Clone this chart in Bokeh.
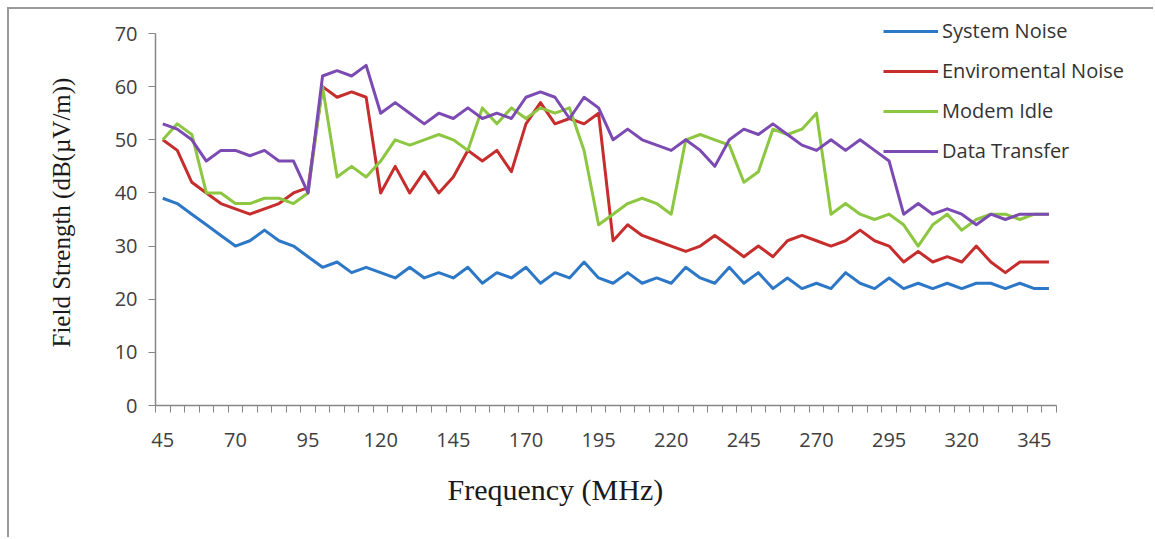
from bokeh.plotting import figure
from bokeh.models import FixedTicker, Range1d, Legend, LegendItem, Title
from bokeh.embed import file_html
from bokeh.resources import INLINE

# ---- data ----
freq = [45, 50, 55, 60, 65, 70, 75, 80, 85, 90, 95, 100, 105, 110, 115, 120,
        125, 130, 135, 140, 145, 150, 155, 160, 165, 170, 175, 180, 185, 190, 195,
        200, 205, 210, 215, 220, 225, 230, 235, 240, 245, 250, 255, 260, 265, 270,
        275, 280, 285, 290, 295, 300, 305, 310, 315, 320, 325, 330, 335, 340, 345, 350]

system_noise = [39, 38, 36, 34, 32, 30, 31, 33, 31, 30, 28, 26, 27, 25, 26, 25,
                24, 26, 24, 25, 24, 26, 23, 25, 24, 26, 23, 25, 24, 27, 24,
                23, 25, 23, 24, 23, 26, 24, 23, 26, 23, 25, 22, 24, 22, 23,
                22, 25, 23, 22, 24, 22, 23, 22, 23, 22, 23, 23, 22, 23, 22, 22]

env_noise = [50, 48, 42, 40, 38, 37, 36, 37, 38, 40, 41, 60, 58, 59, 58, 40,
             45, 40, 44, 40, 43, 48, 46, 48, 44, 53, 57, 53, 54, 53, 55,
             31, 34, 32, 31, 30, 29, 30, 32, 30, 28, 30, 28, 31, 32, 31,
             30, 31, 33, 31, 30, 27, 29, 27, 28, 27, 30, 27, 25, 27, 27, 27]

modem_idle = [50, 53, 51, 40, 40, 38, 38, 39, 39, 38, 40, 60, 43, 45, 43, 46,
              50, 49, 50, 51, 50, 48, 56, 53, 56, 54, 56, 55, 56, 48, 34,
              36, 38, 39, 38, 36, 50, 51, 50, 49, 42, 44, 52, 51, 52, 55,
              36, 38, 36, 35, 36, 34, 30, 34, 36, 33, 35, 36, 36, 35, 36, 36]

data_transfer = [53, 52, 50, 46, 48, 48, 47, 48, 46, 46, 40, 62, 63, 62, 64, 55,
                 57, 55, 53, 55, 54, 56, 54, 55, 54, 58, 59, 58, 54, 58, 56,
                 50, 52, 50, 49, 48, 50, 48, 45, 50, 52, 51, 53, 51, 49, 48,
                 50, 48, 50, 48, 46, 36, 38, 36, 37, 36, 34, 36, 35, 36, 36, 36]

x_tick_labels = [45, 70, 95, 120, 145, 170, 195, 220, 245, 270, 295, 320, 345]
y_ticks = [0, 10, 20, 30, 40, 50, 60, 70]

x_title = "Frequency (MHz)"
y_title = "Field Strength (dB(\u00b5V/m))"
series_names = ["System Noise", "Enviromental Noise", "Modem Idle", "Data Transfer"]
series_colors = ["#2D77C7", "#C62D2D", "#8DC641", "#7B4AB3"]

# ---- layout constants (pixels) ----
W, H = 1153, 537
ML, MR, MT, MB = 155, 3, 9, 132
AXIS_W_PX = 900.7     # width of the category axis
AXIS_H_PX = 372.0     # height of the 0..70 value axis

half = (freq[1] - freq[0]) / 2
x0, x1 = freq[0] - half, freq[-1] + half
frame_w = W - ML - MR
frame_h = H - MT - MB
x_end = x0 + frame_w * (x1 - x0) / AXIS_W_PX
y_end = frame_h * (y_ticks[-1] - y_ticks[0]) / AXIS_H_PX

p = figure(width=W, height=H, output_backend="svg", toolbar_location=None,
           x_range=Range1d(x0, x_end), y_range=Range1d(y_ticks[0], y_end),
           min_border_left=ML, min_border_right=MR,
           min_border_top=MT, min_border_bottom=MB)
# chart-area border (top and left edges) drawn as the element background
frame_css = "linear-gradient(#9a9a9a, #9a9a9a)"
p.styles = {"background": (frame_css + " 7px 7px / 2px 100% no-repeat, " +
                           frame_css + " 7px 7px / 100% 2px no-repeat, #ffffff")}
p.outline_line_color = None
p.xgrid.visible = False
p.ygrid.visible = False
p.background_fill_alpha = 0
p.border_fill_alpha = 0

axis_gray = "#868686"
label_col = "#404040"

xa = p.xaxis[0]
xa.bounds = (x0, x1)
xa.ticker = FixedTicker(ticks=x_tick_labels,
                        minor_ticks=[f - half for f in freq] + [x1])
xa.major_tick_out = 0
xa.major_tick_in = 0
xa.minor_tick_out = 7
xa.minor_tick_in = 0
xa.minor_tick_line_color = axis_gray
xa.axis_line_color = axis_gray
xa.axis_line_width = 1.5
xa.major_label_text_font = "Open Sans"
xa.major_label_text_font_size = "20px"
xa.major_label_text_color = label_col
xa.major_label_standoff = 20

# x-axis title, placed under the axis (left-aligned with an offset)
xt = Title(text=x_title, align="left", offset=292, vertical_align="top",
           standoff=46, text_font="Liberation Serif", text_font_size="30px",
           text_font_style="normal", text_color="#1a1a1a")
p.add_layout(xt, "below")

ya = p.yaxis[0]
ya.bounds = (y_ticks[0], y_ticks[-1])
ya.ticker = FixedTicker(ticks=y_ticks, minor_ticks=[])
ya.major_tick_out = 7
ya.major_tick_in = 0
ya.minor_tick_out = 0
ya.minor_tick_in = 0
ya.major_tick_line_color = axis_gray
ya.axis_line_color = axis_gray
ya.axis_line_width = 1.5
ya.major_label_text_font = "Open Sans"
ya.major_label_text_font_size = "20px"
ya.major_label_text_color = label_col
ya.major_label_standoff = 11

# y-axis title, left of the axis, starting 58px above the x axis
yt = Title(text=y_title, align="left", offset=58, vertical_align="middle",
           standoff=72, text_font="Liberation Serif", text_font_size="25px",
           text_font_style="normal", text_color="#1a1a1a")
p.add_layout(yt, "left")

items = []
for name, ys, col in zip(series_names,
                         [system_noise, env_noise, modem_idle, data_transfer],
                         series_colors):
    r = p.line(freq, ys, line_color=col, line_width=3, line_join="round")
    items.append(LegendItem(label=name, renderers=[r]))

legend = Legend(items=items, location=(728, 241))
legend.padding = 0
legend.margin = 0
legend.spacing = 13
legend.glyph_width = 55
legend.glyph_height = 20
legend.label_height = 20
legend.label_standoff = 4
legend.border_line_alpha = 0
legend.background_fill_alpha = 0
legend.label_text_font = "Open Sans"
legend.label_text_font_size = "20px"
legend.label_text_color = "#333333"
p.add_layout(legend, "center")

open("out.html", "w").write(file_html(p, INLINE))
